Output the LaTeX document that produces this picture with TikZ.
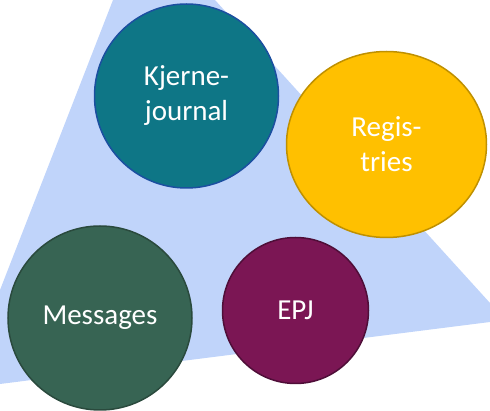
\documentclass[tikz,border=0pt]{standalone}
\usepackage{fontspec}
\setmainfont{Carlito}
\usetikzlibrary{shapes.geometric}
\definecolor{bgblue}{HTML}{C0D4FA}
\definecolor{tealfill}{HTML}{0E7686}
\definecolor{tealline}{HTML}{1B4FA0}
\definecolor{goldfill}{HTML}{FFC000}
\definecolor{goldline}{HTML}{BF9000}
\definecolor{greenfill}{HTML}{376453}
\definecolor{greenline}{HTML}{2A4A3D}
\definecolor{plumfill}{HTML}{7B1654}
\definecolor{plumline}{HTML}{4F0E38}
\begin{document}
\begin{tikzpicture}[x=1pt,y=-1pt,
	blob/.style={circle,line width=1.5pt,text=white,align=center,inner sep=0pt,
		font=\fontsize{29}{35}\selectfont}]
	\useasboundingbox (0,0) rectangle (490,411);
	\fill[bgblue] (113,0) -- (215,0) -- (490,303) -- (490,322) -- (0,384) -- (0,290) -- cycle;
	\node[blob,draw=tealline,fill=tealfill,minimum size=184pt] (kjerne) at (186.5,96) {Kjerne-\\journal};
	\node[blob,ellipse,draw=goldline,fill=goldfill,minimum width=200pt,minimum height=186pt] (registries) at (386.5,144.5) {Regis-\\tries};
	\node[blob,draw=greenline,fill=greenfill,minimum size=184pt] (messages) at (100,318) {Messages};
	\node[blob,draw=plumline,fill=plumfill,minimum size=146pt] (epj) at (295.5,310.5) {EPJ};
\end{tikzpicture}
\end{document}
